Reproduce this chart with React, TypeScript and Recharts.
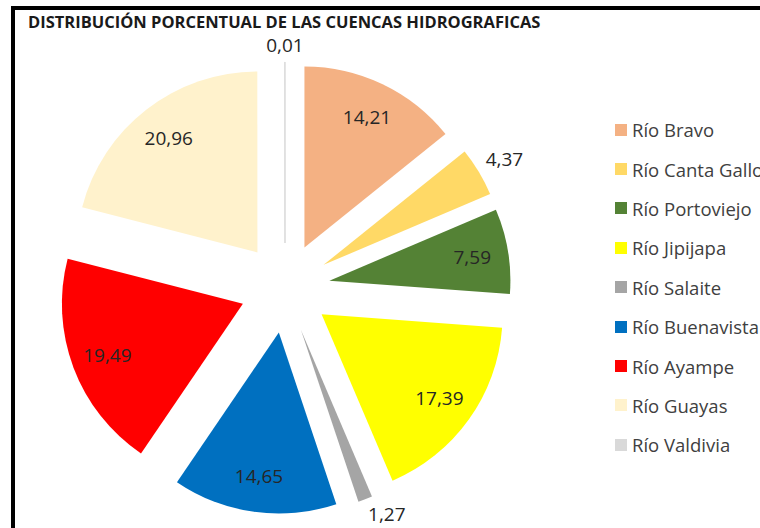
import { PieChart, Pie, Cell, Legend } from 'recharts';

const cuencas = [
  'Río Bravo',
  'Río Canta Gallo',
  'Río Portoviejo',
  'Río Jipijapa',
  'Río Salaite',
  'Río Buenavista',
  'Río Ayampe',
  'Río Guayas',
  'Río Valdivia',
];
const porcentajes = [14.21, 4.37, 7.59, 17.39, 1.27, 14.65, 19.49, 20.96, 0.01];
const etiquetas = ['14,21', '4,37', '7,59', '17,39', '1,27', '14,65', '19,49', '20,96', '0,01'];
const colores = ['#F4B183', '#FFD966', '#548235', '#FFFF00', '#A5A5A5', '#0070C0', '#FF0000', '#FFF2CC', '#D9D9D9'];

const data = cuencas.map((name, i) => ({ name, value: porcentajes[i] }));

const total = porcentajes.reduce((a, b) => a + b, 0);
// mid angle of each slice (recharts degrees, start at 12 o'clock, clockwise)
const midAngles = porcentajes.map((v, i) => {
  const before = porcentajes.slice(0, i).reduce((a, b) => a + b, 0);
  return 90 - (360 * (before + v / 2)) / total;
});

const CX = 285;
const CY = 288;
const R = 181;
const EXPLODE = 45;
const RAD = Math.PI / 180;
const FONT = '"Open Sans", sans-serif';

function makeLabel(k: number) {
  return (props: any) => {
    const { cx, cy, midAngle, outerRadius, index } = props;
    if (index !== k) return null;
    const cos = Math.cos(-midAngle * RAD);
    const sin = Math.sin(-midAngle * RAD);
    const outside = porcentajes[k] < 5;
    if (!outside) {
      const r = outerRadius * 0.8;
      return (
        <text x={cx + r * cos} y={cy + r * sin} textAnchor="middle" dominantBaseline="central"
          fill="#262626" fontSize={19} fontFamily={FONT}>
          {etiquetas[k]}
        </text>
      );
    }
    // outside labels: box sits just beyond the arc, away from the pie
    const r = outerRadius + 8;
    const anchor = Math.abs(cos) < 0.2 ? 'middle' : cos > 0 ? 'start' : 'end';
    const base = sin > 0 ? 'hanging' : 'auto';
    return (
      <text x={cx + r * cos} y={cy + r * sin - 2} textAnchor={anchor} dominantBaseline={base}
        fill="#262626" fontSize={19} fontFamily={FONT}>
        {etiquetas[k]}
      </text>
    );
  };
}

function Leyenda() {
  return (
    <div style={{ fontFamily: FONT }}>
      {cuencas.map((c, i) => (
        <div key={c} style={{ display: 'flex', alignItems: 'center', height: 39.4, whiteSpace: 'nowrap' }}>
          <span style={{ width: 12, height: 12, background: colores[i], marginRight: 5, flex: 'none' }} />
          <span style={{ fontSize: 18.5, color: '#404040' }}>{c}</span>
        </div>
      ))}
    </div>
  );
}

export default function App() {
  return (
    <div style={{ position: 'fixed', left: 0, top: 0, width: 760, height: 528, overflow: 'hidden', background: '#fff' }}>
      <div
        style={{
          position: 'absolute',
          left: 11,
          top: 6,
          width: 900,
          height: 700,
          border: '4px solid #000',
          boxSizing: 'border-box',
        }}
      />
      <div
        style={{
          position: 'absolute',
          left: 28,
          top: 10,
          fontFamily: FONT,
          fontWeight: 700,
          fontSize: 16.5,
          color: '#1a1a1a',
          whiteSpace: 'nowrap',
        }}
      >
        DISTRIBUCIÓN PORCENTUAL DE LAS CUENCAS HIDROGRAFICAS
      </div>
      <PieChart
        width={760}
        height={528}
        margin={{ top: 0, right: 0, bottom: 0, left: 0 }}
        style={{ position: 'absolute', left: 0, top: 0 }}
      >
        {data.map((_, k) => {
          const ox = EXPLODE * Math.cos(-midAngles[k] * RAD);
          const oy = EXPLODE * Math.sin(-midAngles[k] * RAD);
          return (
            <Pie
              key={k}
              data={data}
              dataKey="value"
              nameKey="name"
              cx={CX + ox}
              cy={CY + oy}
              outerRadius={R}
              startAngle={90}
              endAngle={-270}
              stroke="none"
              label={makeLabel(k)}
              labelLine={false}
              isAnimationActive={false}
            >
              {data.map((d, i) => (
                <Cell
                  key={d.name}
                  fill={i === k ? colores[i] : 'none'}
                  stroke={i === k && porcentajes[i] < 0.1 ? colores[i] : 'none'}
                  strokeWidth={1}
                />
              ))}
            </Pie>
          );
        })}
        <Legend
          content={<Leyenda />}
          wrapperStyle={{ position: 'absolute', left: 615, top: 110, width: 200 }}
        />
      </PieChart>
    </div>
  );
}
